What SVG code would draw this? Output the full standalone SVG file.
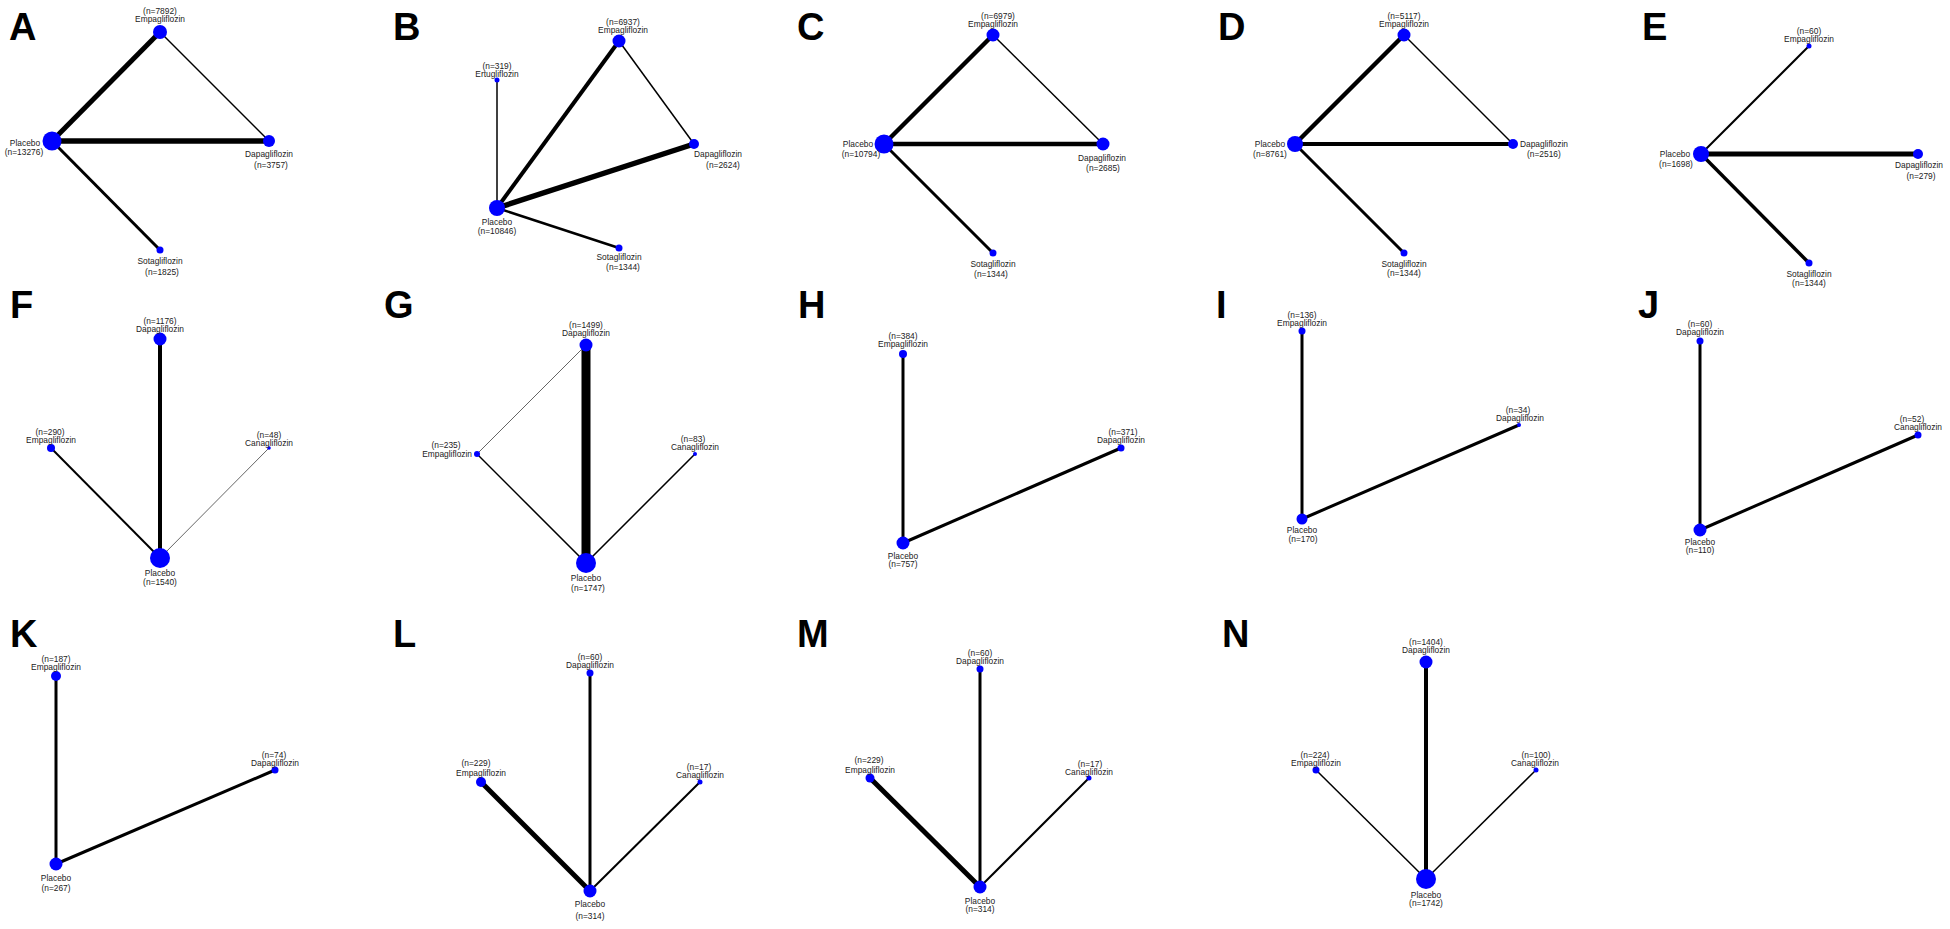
<svg xmlns="http://www.w3.org/2000/svg" width="1950" height="929" viewBox="0 0 1950 929">
<style>
.bg{fill:#fff}
.t{font-family:"Liberation Sans",Arial,sans-serif;font-size:8.4px;fill:#222;text-anchor:middle}
.te{text-anchor:end}
.ts{text-anchor:start}
.L{font-family:"Liberation Sans",Arial,sans-serif;font-size:38px;font-weight:bold;fill:#000}
.n{fill:#0000ff}
.e{stroke:#000;fill:none}
.g{stroke:#666;fill:none}
</style>
<rect class="bg" x="0" y="0" width="1950" height="929"/>
<g id="letters">
<text class="L" x="9" y="40">A</text>
<text class="L" x="393" y="40">B</text>
<text class="L" x="797" y="40">C</text>
<text class="L" x="1218" y="40">D</text>
<text class="L" x="1642" y="40">E</text>
<text class="L" x="10" y="318">F</text>
<text class="L" x="384" y="318">G</text>
<text class="L" x="798" y="318">H</text>
<text class="L" x="1216" y="318">I</text>
<text class="L" x="1638" y="318">J</text>
<text class="L" x="10" y="647">K</text>
<text class="L" x="393" y="647">L</text>
<text class="L" x="797" y="647">M</text>
<text class="L" x="1222" y="647">N</text>
</g>
<g id="connectors">
<line class="e" x1="52" y1="141" x2="160" y2="32" stroke-width="5"/>
<line class="e" x1="52" y1="141" x2="269" y2="141" stroke-width="5.5"/>
<line class="e" x1="160" y1="32" x2="269" y2="141" stroke-width="1.5"/>
<line class="e" x1="52" y1="141" x2="160" y2="250" stroke-width="3"/>
<line class="e" x1="497" y1="208" x2="497" y2="80" stroke-width="1.5"/>
<line class="e" x1="497" y1="208" x2="619" y2="41" stroke-width="4"/>
<line class="e" x1="497" y1="208" x2="694" y2="144" stroke-width="5.5"/>
<line class="e" x1="619" y1="41" x2="694" y2="144" stroke-width="1.5"/>
<line class="e" x1="497" y1="208" x2="619" y2="248" stroke-width="2.5"/>
<line class="e" x1="884" y1="144" x2="993" y2="35" stroke-width="4.5"/>
<line class="e" x1="884" y1="144" x2="1103" y2="144" stroke-width="4.5"/>
<line class="e" x1="993" y1="35" x2="1103" y2="144" stroke-width="1.5"/>
<line class="e" x1="884" y1="144" x2="993" y2="253" stroke-width="3"/>
<line class="e" x1="1295" y1="144" x2="1404" y2="35" stroke-width="4.5"/>
<line class="e" x1="1295" y1="144" x2="1513" y2="144" stroke-width="4"/>
<line class="e" x1="1404" y1="35" x2="1513" y2="144" stroke-width="1.5"/>
<line class="e" x1="1295" y1="144" x2="1404" y2="253" stroke-width="3"/>
<line class="e" x1="1701" y1="154" x2="1809" y2="46" stroke-width="2"/>
<line class="e" x1="1701" y1="154" x2="1918" y2="154" stroke-width="5"/>
<line class="e" x1="1701" y1="154" x2="1809" y2="263" stroke-width="3.5"/>
<line class="e" x1="160" y1="558" x2="160" y2="339" stroke-width="4"/>
<line class="e" x1="160" y1="558" x2="51" y2="448" stroke-width="2"/>
<line class="g" x1="160" y1="558" x2="269" y2="448" stroke-width="1"/>
<line class="e" x1="586" y1="563" x2="586" y2="345" stroke-width="9"/>
<line class="g" x1="586" y1="345" x2="477" y2="454" stroke-width="1"/>
<line class="e" x1="477" y1="454" x2="586" y2="563" stroke-width="1.5"/>
<line class="e" x1="695" y1="454" x2="586" y2="563" stroke-width="1.5"/>
<line class="e" x1="903" y1="543" x2="903" y2="354" stroke-width="3"/>
<line class="e" x1="903" y1="543" x2="1121" y2="448" stroke-width="3"/>
<line class="e" x1="1302" y1="519" x2="1302" y2="331" stroke-width="3"/>
<line class="e" x1="1302" y1="519" x2="1519" y2="425" stroke-width="3"/>
<line class="e" x1="1700" y1="530" x2="1700" y2="341" stroke-width="3"/>
<line class="e" x1="1700" y1="530" x2="1918" y2="435" stroke-width="3"/>
<line class="e" x1="56" y1="864" x2="56" y2="676" stroke-width="3"/>
<line class="e" x1="56" y1="864" x2="275" y2="770" stroke-width="3"/>
<line class="e" x1="590" y1="891" x2="481" y2="782" stroke-width="5"/>
<line class="e" x1="590" y1="891" x2="590" y2="673" stroke-width="3"/>
<line class="e" x1="590" y1="891" x2="700" y2="782" stroke-width="2"/>
<line class="e" x1="980" y1="887" x2="870" y2="778" stroke-width="5"/>
<line class="e" x1="980" y1="887" x2="980" y2="669" stroke-width="3"/>
<line class="e" x1="980" y1="887" x2="1089" y2="778" stroke-width="2"/>
<line class="e" x1="1426" y1="879" x2="1426" y2="662" stroke-width="4"/>
<line class="e" x1="1426" y1="879" x2="1316" y2="770" stroke-width="1.5"/>
<line class="e" x1="1426" y1="879" x2="1536" y2="770" stroke-width="1.5"/>
</g>

<g id="A-empagliflozin"><circle class="n" cx="160" cy="32" r="7"/><text class="t" x="160" y="14">(n=7892)</text><text class="t" x="160" y="22">Empagliflozin</text></g>
<g id="A-placebo"><circle class="n" cx="52" cy="141" r="9.5"/><text class="t" x="25" y="146">Placebo</text><text class="t" x="24" y="155">(n=13276)</text></g>
<g id="A-dapagliflozin"><circle class="n" cx="269" cy="141" r="6"/><text class="t" x="269" y="157">Dapagliflozin</text><text class="t" x="271" y="168">(n=3757)</text></g>
<g id="A-sotagliflozin"><circle class="n" cx="160" cy="250" r="3.5"/><text class="t" x="160" y="264">Sotagliflozin</text><text class="t" x="162" y="275">(n=1825)</text></g>

<g id="B-empagliflozin"><circle class="n" cx="619" cy="41" r="6.5"/><text class="t" x="623" y="25">(n=6937)</text><text class="t" x="623" y="33">Empagliflozin</text></g>
<g id="B-ertugliflozin"><circle class="n" cx="497" cy="80" r="2.5"/><text class="t" x="497" y="69">(n=319)</text><text class="t" x="497" y="77">Ertugliflozin</text></g>
<g id="B-dapagliflozin"><circle class="n" cx="694" cy="144" r="5"/><text class="t" x="718" y="157">Dapagliflozin</text><text class="t" x="723" y="168">(n=2624)</text></g>
<g id="B-placebo"><circle class="n" cx="497" cy="208" r="8"/><text class="t" x="497" y="225">Placebo</text><text class="t" x="497" y="234">(n=10846)</text></g>
<g id="B-sotagliflozin"><circle class="n" cx="619" cy="248" r="3.5"/><text class="t" x="619" y="260">Sotagliflozin</text><text class="t" x="623" y="270">(n=1344)</text></g>

<g id="C-empagliflozin"><circle class="n" cx="993" cy="35" r="6.5"/><text class="t" x="998" y="19">(n=6979)</text><text class="t" x="993" y="27">Empagliflozin</text></g>
<g id="C-placebo"><circle class="n" cx="884" cy="144" r="9.5"/><text class="t" x="858" y="147">Placebo</text><text class="t" x="861" y="157">(n=10794)</text></g>
<g id="C-dapagliflozin"><circle class="n" cx="1103" cy="144" r="6.5"/><text class="t" x="1102" y="161">Dapagliflozin</text><text class="t" x="1103" y="171">(n=2685)</text></g>
<g id="C-sotagliflozin"><circle class="n" cx="993" cy="253" r="3.5"/><text class="t" x="993" y="267">Sotagliflozin</text><text class="t" x="991" y="277">(n=1344)</text></g>

<g id="D-empagliflozin"><circle class="n" cx="1404" cy="35" r="6.5"/><text class="t" x="1404" y="19">(n=5117)</text><text class="t" x="1404" y="27">Empagliflozin</text></g>
<g id="D-placebo"><circle class="n" cx="1295" cy="144" r="8"/><text class="t" x="1270" y="147">Placebo</text><text class="t" x="1270" y="157">(n=8761)</text></g>
<g id="D-dapagliflozin"><circle class="n" cx="1513" cy="144" r="5"/><text class="t ts" x="1520" y="147">Dapagliflozin</text><text class="t ts" x="1527" y="157">(n=2516)</text></g>
<g id="D-sotagliflozin"><circle class="n" cx="1404" cy="253" r="3.5"/><text class="t" x="1404" y="267">Sotagliflozin</text><text class="t" x="1404" y="276">(n=1344)</text></g>

<g id="E-empagliflozin"><circle class="n" cx="1809" cy="46" r="2.5"/><text class="t" x="1809" y="34">(n=60)</text><text class="t" x="1809" y="42">Empagliflozin</text></g>
<g id="E-placebo"><circle class="n" cx="1701" cy="154" r="8"/><text class="t" x="1675" y="157">Placebo</text><text class="t" x="1676" y="167">(n=1698)</text></g>
<g id="E-dapagliflozin"><circle class="n" cx="1918" cy="154" r="5"/><text class="t" x="1919" y="168">Dapagliflozin</text><text class="t" x="1921" y="179">(n=279)</text></g>
<g id="E-sotagliflozin"><circle class="n" cx="1809" cy="263" r="3.5"/><text class="t" x="1809" y="277">Sotagliflozin</text><text class="t" x="1809" y="286">(n=1344)</text></g>

<g id="F-dapagliflozin"><circle class="n" cx="160" cy="339" r="6.5"/><text class="t" x="160" y="324">(n=1176)</text><text class="t" x="160" y="332">Dapagliflozin</text></g>
<g id="F-empagliflozin"><circle class="n" cx="51" cy="448" r="4"/><text class="t" x="50" y="435">(n=290)</text><text class="t" x="51" y="443">Empagliflozin</text></g>
<g id="F-canagliflozin"><circle class="n" cx="269" cy="448" r="1.8"/><text class="t" x="269" y="438">(n=48)</text><text class="t" x="269" y="446">Canagliflozin</text></g>
<g id="F-placebo"><circle class="n" cx="160" cy="558" r="10"/><text class="t" x="160" y="576">Placebo</text><text class="t" x="160" y="585">(n=1540)</text></g>

<g id="G-dapagliflozin"><circle class="n" cx="586" cy="345" r="6.5"/><text class="t" x="586" y="328">(n=1499)</text><text class="t" x="586" y="336">Dapagliflozin</text></g>
<g id="G-empagliflozin"><circle class="n" cx="477" cy="454" r="3"/><text class="t" x="446" y="448">(n=235)</text><text class="t te" x="472" y="457">Empagliflozin</text></g>
<g id="G-canagliflozin"><circle class="n" cx="695" cy="454" r="2"/><text class="t" x="693" y="442">(n=83)</text><text class="t" x="695" y="450">Canagliflozin</text></g>
<g id="G-placebo"><circle class="n" cx="586" cy="563" r="10"/><text class="t" x="586" y="581">Placebo</text><text class="t" x="588" y="591">(n=1747)</text></g>

<g id="H-empagliflozin"><circle class="n" cx="903" cy="354" r="4"/><text class="t" x="903" y="339">(n=384)</text><text class="t" x="903" y="347">Empagliflozin</text></g>
<g id="H-dapagliflozin"><circle class="n" cx="1121" cy="448" r="3.5"/><text class="t" x="1123" y="435">(n=371)</text><text class="t" x="1121" y="443">Dapagliflozin</text></g>
<g id="H-placebo"><circle class="n" cx="903" cy="543" r="6.5"/><text class="t" x="903" y="559">Placebo</text><text class="t" x="903" y="567">(n=757)</text></g>

<g id="I-empagliflozin"><circle class="n" cx="1302" cy="331" r="3.5"/><text class="t" x="1302" y="318">(n=136)</text><text class="t" x="1302" y="326">Empagliflozin</text></g>
<g id="I-dapagliflozin"><circle class="n" cx="1519" cy="425" r="2"/><text class="t" x="1518" y="413">(n=34)</text><text class="t" x="1520" y="421">Dapagliflozin</text></g>
<g id="I-placebo"><circle class="n" cx="1302" cy="519" r="5.5"/><text class="t" x="1302" y="533">Placebo</text><text class="t" x="1303" y="542">(n=170)</text></g>

<g id="J-dapagliflozin"><circle class="n" cx="1700" cy="341" r="3.5"/><text class="t" x="1700" y="327">(n=60)</text><text class="t" x="1700" y="335">Dapagliflozin</text></g>
<g id="J-canagliflozin"><circle class="n" cx="1918" cy="435" r="3.5"/><text class="t" x="1912" y="422">(n=52)</text><text class="t" x="1918" y="430">Canagliflozin</text></g>
<g id="J-placebo"><circle class="n" cx="1700" cy="530" r="6.5"/><text class="t" x="1700" y="545">Placebo</text><text class="t" x="1700" y="553">(n=110)</text></g>

<g id="K-empagliflozin"><circle class="n" cx="56" cy="676" r="5"/><text class="t" x="56" y="662">(n=187)</text><text class="t" x="56" y="670">Empagliflozin</text></g>
<g id="K-dapagliflozin"><circle class="n" cx="275" cy="770" r="3.5"/><text class="t" x="274" y="758">(n=74)</text><text class="t" x="275" y="766">Dapagliflozin</text></g>
<g id="K-placebo"><circle class="n" cx="56" cy="864" r="6.5"/><text class="t" x="56" y="881">Placebo</text><text class="t" x="56" y="891">(n=267)</text></g>

<g id="L-dapagliflozin"><circle class="n" cx="590" cy="673" r="3.5"/><text class="t" x="590" y="660">(n=60)</text><text class="t" x="590" y="668">Dapagliflozin</text></g>
<g id="L-empagliflozin"><circle class="n" cx="481" cy="782" r="5"/><text class="t" x="476" y="766">(n=229)</text><text class="t" x="481" y="776">Empagliflozin</text></g>
<g id="L-canagliflozin"><circle class="n" cx="700" cy="782" r="2.5"/><text class="t" x="699" y="770">(n=17)</text><text class="t" x="700" y="778">Canagliflozin</text></g>
<g id="L-placebo"><circle class="n" cx="590" cy="891" r="6.5"/><text class="t" x="590" y="907">Placebo</text><text class="t" x="590" y="919">(n=314)</text></g>

<g id="M-dapagliflozin"><circle class="n" cx="980" cy="669" r="3.5"/><text class="t" x="980" y="656">(n=60)</text><text class="t" x="980" y="664">Dapagliflozin</text></g>
<g id="M-empagliflozin"><circle class="n" cx="870" cy="778" r="4.5"/><text class="t" x="869" y="763">(n=229)</text><text class="t" x="870" y="773">Empagliflozin</text></g>
<g id="M-canagliflozin"><circle class="n" cx="1089" cy="778" r="2.5"/><text class="t" x="1090" y="767">(n=17)</text><text class="t" x="1089" y="775">Canagliflozin</text></g>
<g id="M-placebo"><circle class="n" cx="980" cy="887" r="6.5"/><text class="t" x="980" y="904">Placebo</text><text class="t" x="980" y="912">(n=314)</text></g>

<g id="N-dapagliflozin"><circle class="n" cx="1426" cy="662" r="6.5"/><text class="t" x="1426" y="645">(n=1404)</text><text class="t" x="1426" y="653">Dapagliflozin</text></g>
<g id="N-empagliflozin"><circle class="n" cx="1316" cy="770" r="3.5"/><text class="t" x="1315" y="758">(n=224)</text><text class="t" x="1316" y="766">Empagliflozin</text></g>
<g id="N-canagliflozin"><circle class="n" cx="1536" cy="770" r="2.5"/><text class="t" x="1536" y="758">(n=100)</text><text class="t" x="1535" y="766">Canagliflozin</text></g>
<g id="N-placebo"><circle class="n" cx="1426" cy="879" r="10"/><text class="t" x="1426" y="898">Placebo</text><text class="t" x="1426" y="906">(n=1742)</text></g>
</svg>
